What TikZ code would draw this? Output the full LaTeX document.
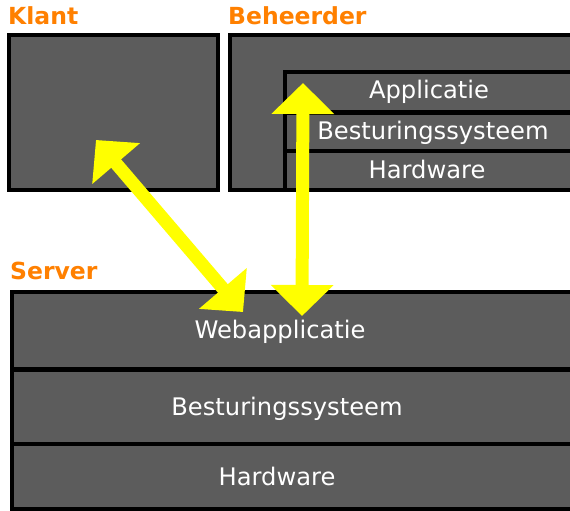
\documentclass[tikz,border=0pt]{standalone}
\usepackage{fontspec}
\setmainfont{DejaVu Sans}
\usetikzlibrary{arrows.meta}
\definecolor{boxgray}{HTML}{5C5C5C}
\definecolor{lblorange}{HTML}{FF8000}
\definecolor{arrowyellow}{HTML}{FFFF00}
\begin{document}
\begin{tikzpicture}[x=1pt,y=-1pt,
  layer/.style={fill=boxgray,draw=black,line width=4.5pt},
  sepline/.style={draw=black,line width=4.5pt},
  lbl/.style={font=\fontsize{23.5}{28}\selectfont\bfseries,text=lblorange,anchor=base west,inner sep=0pt},
  rowtxt/.style={font=\fontsize{24.2}{28}\selectfont,text=white,anchor=base,inner sep=0pt},
  bigarrow/.style={draw=arrowyellow,line width=13pt,{Triangle[length=31pt,width=61pt]}-{Triangle[length=31pt,width=61pt]}}]
\useasboundingbox (0,0) rectangle (570,511);
\clip (0,0) rectangle (570,511);
\fill[white] (0,0) rectangle (570,511);
% Klant
\draw[layer] (9,35) rectangle (218,190);
\node[lbl] (klant) at (8,25) {Klant};
% Beheerder
\draw[layer] (230,35) rectangle (590,190);
\draw[layer] (285,72) rectangle (590,190);
\draw[sepline] (285,112.5) -- (590,112.5);
\draw[sepline] (285,151) -- (590,151);
\node[lbl] (beheerder) at (228,25) {Beheerder};
\node[rowtxt] (bapp) at (429,99) {Applicatie};
\node[rowtxt] (bos) at (433,139) {Besturingssysteem};
\node[rowtxt] (bhw) at (427,178) {Hardware};
% Server
\draw[layer] (12,292) rectangle (590,509);
\draw[sepline] (12,369.5) -- (590,369.5);
\draw[sepline] (12,444) -- (590,444);
\node[lbl] (server) at (10,279) {Server};
\node[rowtxt] (swa) at (280,338) {Webapplicatie};
\node[rowtxt] (sos) at (287,415) {Besturingssysteem};
\node[rowtxt] (shw) at (277,485) {Hardware};
% arrows
\coordinate (klanttip) at (96,140);
\coordinate (serverlefttip) at (243,312);
\coordinate (beheertip) at (303,83);
\coordinate (serverrighttip) at (302,316);
\draw[bigarrow] (klanttip) -- (serverlefttip);
\draw[bigarrow] (beheertip) -- (serverrighttip);
\end{tikzpicture}
\end{document}
